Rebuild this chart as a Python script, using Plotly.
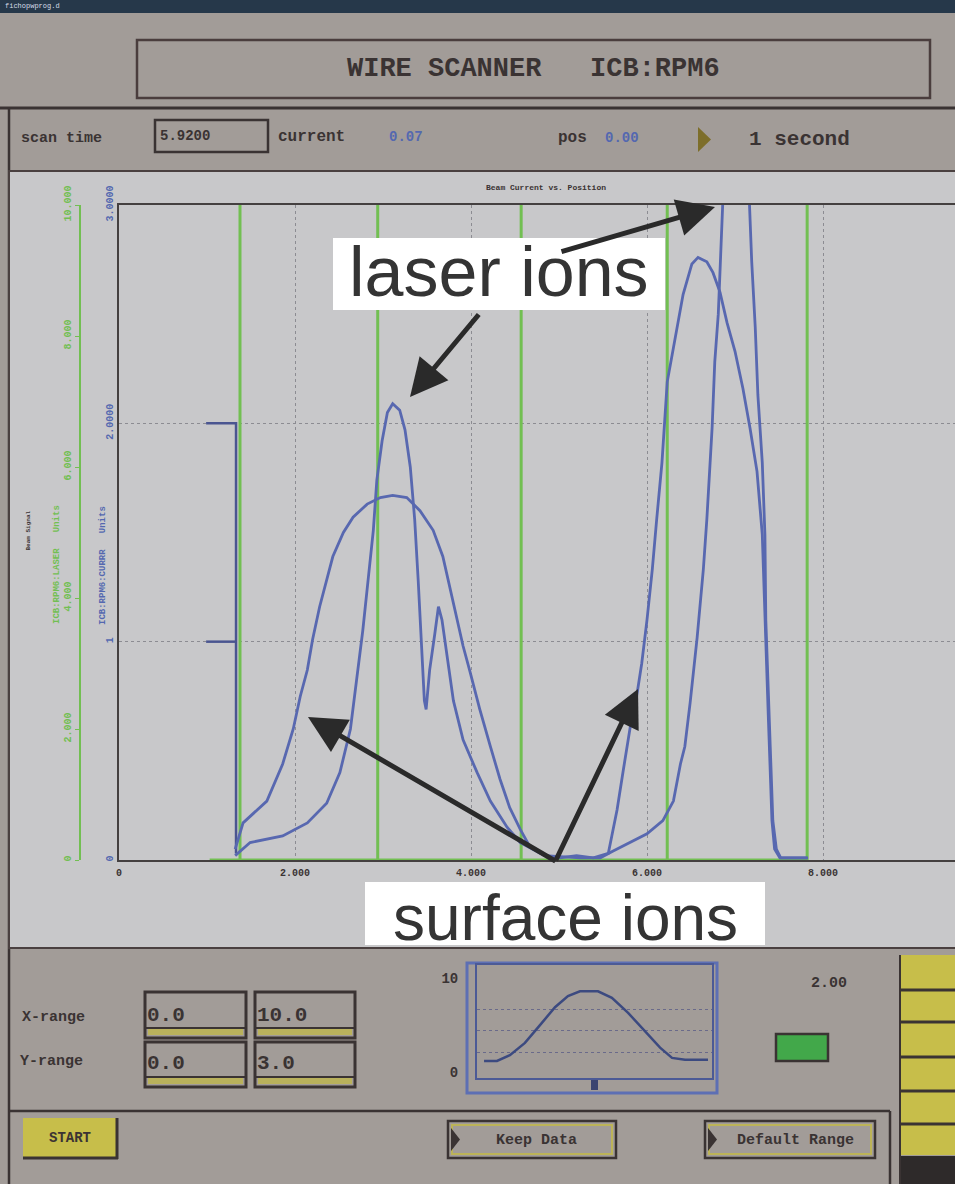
import plotly.graph_objects as go

W, H = 955, 1184

# ---------------- data ----------------
# surface-ion scan (broad peaks)
position_surface = [1.32, 1.41, 1.68, 1.86, 1.98, 2.06, 2.14, 2.20, 2.28, 2.36,
                    2.43, 2.55, 2.66, 2.82, 2.97, 3.11, 3.27, 3.42, 3.57, 3.68,
                    3.76, 3.84, 3.91, 3.99, 4.10, 4.22, 4.33, 4.44, 4.56, 4.67,
                    4.84, 5.01, 5.20, 5.39, 5.56, 5.60, 5.66, 5.73, 5.81, 5.89,
                    5.94, 6.00, 6.06, 6.11, 6.17, 6.23, 6.32, 6.41, 6.51, 6.58,
                    6.68, 6.75, 6.83, 6.91, 7.00, 7.09, 7.17, 7.25, 7.31, 7.34,
                    7.38, 7.42, 7.45, 7.51, 7.82]
current_surface = [0.05, 0.17, 0.27, 0.44, 0.60, 0.75, 0.87, 1.01, 1.16, 1.28,
                   1.39, 1.50, 1.57, 1.63, 1.66, 1.67, 1.66, 1.60, 1.51, 1.39,
                   1.25, 1.10, 0.98, 0.86, 0.69, 0.52, 0.37, 0.24, 0.14, 0.06,
                   0.02, 0.01, 0.02, 0.01, 0.03, 0.11, 0.23, 0.41, 0.61, 0.77,
                   0.90, 1.10, 1.33, 1.56, 1.82, 2.19, 2.40, 2.59, 2.73, 2.76,
                   2.74, 2.69, 2.60, 2.46, 2.33, 2.16, 1.98, 1.78, 1.49, 1.10,
                   0.64, 0.18, 0.05, 0.01, 0.01]
# laser-ion scan (narrow peaks)
position_laser = [1.32, 1.49, 1.86, 2.14, 2.36, 2.51, 2.63, 2.70, 2.77, 2.83,
                  2.89, 2.93, 2.99, 3.05, 3.11, 3.19, 3.25, 3.31, 3.36, 3.40,
                  3.44, 3.47, 3.49, 3.53, 3.59, 3.63, 3.67, 3.73, 3.80, 3.91,
                  4.07, 4.22, 4.41, 4.56, 4.84, 5.24, 5.47, 5.61, 5.81, 6.00,
                  6.18, 6.30, 6.38, 6.43, 6.49, 6.57, 6.64, 6.68, 6.74, 6.77,
                  6.81, 6.83, 6.85, 6.88, 7.00, 7.14, 7.16, 7.19, 7.23, 7.26,
                  7.31, 7.34, 7.35, 7.39, 7.43, 7.47, 7.52, 7.83]
current_laser = [0.02, 0.08, 0.11, 0.17, 0.26, 0.40, 0.60, 0.82, 1.05, 1.28,
                 1.51, 1.74, 1.92, 2.05, 2.09, 2.06, 1.97, 1.80, 1.56, 1.28,
                 0.98, 0.73, 0.69, 0.87, 1.04, 1.16, 1.10, 0.93, 0.73, 0.55,
                 0.40, 0.27, 0.15, 0.08, 0.02, 0.01, 0.01, 0.04, 0.08, 0.12,
                 0.18, 0.27, 0.44, 0.52, 0.72, 1.02, 1.33, 1.56, 1.98, 2.28,
                 2.50, 2.67, 2.90, 3.20, 3.60, 3.20, 3.05, 2.74, 2.44, 2.13,
                 1.82, 1.49, 1.10, 0.64, 0.18, 0.05, 0.01, 0.01]
# laser trigger signal (green)
trigger_positions = [1.375, 2.94, 4.57, 6.23, 7.82]
trigger_start = 1.03
trigger_high = 10.5
# start markers of the scan
marker_x = [0.99, 1.33, 1.33]
marker_y = [2.0, 2.0, 0.03]
marker2_x = [0.99, 1.33]
marker2_y = [1.0, 1.0]
# tick labels
x_tickvals = [0, 2, 4, 6, 8]
x_ticktext = ["0", "2.000", "4.000", "6.000", "8.000"]
cur_tickvals = [0, 1, 2, 3]
cur_ticktext = ["0", "1", "2.0000", "3.0000"]
laser_tickvals = [0, 2, 4, 6, 8, 10]
laser_ticktext = ["0", "2.000", "4.000", "6.000", "8.000", "10.000"]
# small preview plot
mini_x = [0.3, 0.85, 1.4, 2.04, 2.68, 3.32, 3.87, 4.38, 5.15, 5.74, 6.43, 7.15, 7.79, 8.3, 8.85, 9.83]
mini_y = [1.17, 1.17, 1.8, 3.1, 5.0, 6.9, 8.1, 8.6, 8.6, 7.9, 6.3, 4.3, 2.6, 1.5, 1.3, 1.3]
mini_tickvals = [0, 10]
mini_ticktext = ["0", "10"]

# ---------------- styling ----------------
BG = "#a29c98"
PANEL = "#c8c8ca"
DARK = "#3a3333"
BLUE = "rgb(88,104,176)"
BLUE_TXT = "#5468b0"
GREEN = "#72bf52"
YELLOW = "#c7be4a"
MONO = "Liberation Mono, Courier New, monospace"
SANS = "Liberation Sans, Arial, sans-serif"


def fx(x):
    return x / W


def fy(y):
    return 1 - y / H


shapes = []
annotations = []


def rect(x0, y0, x1, y1, fill=None, line=None, width=0, layer="below"):
    shapes.append(dict(type="rect", xref="paper", yref="paper",
                       x0=fx(x0), x1=fx(x1), y0=fy(y1), y1=fy(y0),
                       fillcolor=fill if fill else "rgba(0,0,0,0)",
                       line=dict(color=line if line else "rgba(0,0,0,0)", width=width),
                       layer=layer))


def hline(x0, x1, y, color=DARK, width=2, layer="below"):
    shapes.append(dict(type="line", xref="paper", yref="paper",
                       x0=fx(x0), x1=fx(x1), y0=fy(y), y1=fy(y),
                       line=dict(color=color, width=width), layer=layer))


def vline(x, y0, y1, color=DARK, width=2, layer="below"):
    shapes.append(dict(type="line", xref="paper", yref="paper",
                       x0=fx(x), x1=fx(x), y0=fy(y0), y1=fy(y1),
                       line=dict(color=color, width=width), layer=layer))


def tri(x0, y0, x1, y1, fill=DARK):
    ym = (y0 + y1) / 2
    path = f"M {fx(x0)} {fy(y0)} L {fx(x1)} {fy(ym)} L {fx(x0)} {fy(y1)} Z"
    shapes.append(dict(type="path", xref="paper", yref="paper", path=path,
                       fillcolor=fill, line=dict(width=0), layer="below"))


def txt(x, y, s, size, color=DARK, anchor="left", font=MONO, bold=True, angle=0):
    annotations.append(dict(x=fx(x), y=fy(y), xref="paper", yref="paper",
                            text=f"<b>{s}</b>" if bold else s, showarrow=False,
                            xanchor=anchor, yanchor="middle", textangle=angle,
                            borderpad=0,
                            font=dict(family=font, size=size, color=color)))


def arrow(tx, ty, sx, sy):
    annotations.append(dict(x=fx(tx), y=fy(ty), xref="paper", yref="paper",
                            ax=sx - tx, ay=sy - ty, text="", showarrow=True,
                            arrowhead=2, arrowsize=1.5, arrowwidth=5,
                            arrowcolor="#2a2a2a", standoff=0, startstandoff=0))


NB = "\u00a0"

# ---- window chrome ----
rect(0, 0, W, 13, fill="#26384a")
txt(4, 6, "fichopwprog.d", 7, color="#d8dde8", bold=False)
rect(137, 40, 930, 98, line="#4a3d3d", width=2.5)
txt(533, 69, f"WIRE SCANNER{NB*3}ICB:RPM6", 27, anchor="center")
hline(0, W, 108, width=3)
vline(9, 108, H, width=2.5)
rect(155, 120, 268, 152, line=DARK, width=2.5)
txt(20, 138, "scan time", 15)
txt(159, 136, "5.9200", 14)
txt(277, 137, "current", 16)
txt(388, 137, "0.07", 14, color=BLUE_TXT)
txt(557, 138, "pos", 16)
txt(604, 138, "0.00", 14, color=BLUE_TXT)
tri(698, 127, 711, 152, fill="#7d6e2a")
txt(748, 139, "1 second", 21)

# ---- plot panel ----
rect(9, 171, W + 2, 948, fill=PANEL, line="#4a4040", width=2)
txt(485, 187, "Beam Current vs. Position", 8)
txt(51, 565, f"ICB:RPM6:LASER{NB*3}Units", 9, color=GREEN, angle=-90)
txt(97, 566, f"ICB:RPM6:CURRR{NB*3}Units", 9, color=BLUE_TXT, angle=-90)
txt(23, 531, "Beam Signal", 6, angle=-90)

# ---- callout labels ----
rect(333, 238, 665, 310, fill="white", layer="above")
rect(365, 882, 765, 945, fill="white", layer="above")
txt(499, 272, "laser ions", 70, color="#343434", anchor="center", font=SANS, bold=False)
txt(565, 918, "surface ions", 64, color="#343434", anchor="center", font=SANS, bold=False)
arrow(410, 397, 480, 313)
arrow(715, 207, 560, 252)
arrow(308, 717, 557, 862)
arrow(638, 689, 555, 862)

# ---- lower controls ----
txt(21, 1017, "X-range", 15)
txt(19, 1061, "Y-range", 15)
for (x0, y0, x1, y1) in [(145, 992, 246, 1038), (255, 992, 355, 1038),
                         (145, 1042, 246, 1087), (255, 1042, 355, 1087)]:
    rect(x0 + 3, y1 - 10, x1 - 3, y1 - 3, fill="#b9b15c")
    hline(x0, x1, y1 - 10, width=2)
    rect(x0, y0, x1, y1, line=DARK, width=3)
txt(146, 1015, "0.0", 21)
txt(256, 1015, "10.0", 21)
txt(146, 1063, "0.0", 21)
txt(256, 1063, "3.0", 21)

hline(9, 890, 1111, width=2.5)
vline(890, 1111, H, width=2.5)
# START button
rect(23, 1118, 117, 1158, fill=YELLOW)
hline(23, 118, 1158, width=3)
vline(117, 1118, 1159, width=3)
txt(70, 1138, "START", 14, anchor="center")
# Keep Data / Default Range buttons
for (x0, x1) in [(448, 616), (705, 875)]:
    rect(x0, 1121, x1, 1158, line=DARK, width=2.5)
    rect(x0 + 4, 1125, x1 - 4, 1154, line="#bcb358", width=2)
    tri(x0 + 3, 1128, x0 + 12, 1151)
txt(536, 1140, "Keep Data", 15, anchor="center")
txt(795, 1140, "Default Range", 15, anchor="center")

# preview frame
rect(467, 963, 717, 1093, line="#5d6fb4", width=3)
rect(591, 1080, 598, 1090, fill="#3a4470")
txt(829, 984, "2.00", 15, anchor="center")
rect(776, 1034, 828, 1061, fill="#42a84a", line=DARK, width=2.5)

# right yellow strip
rect(900, 955, W + 2, 1155, fill=YELLOW)
for yy in [990, 1022, 1057, 1091, 1124]:
    hline(900, W, yy, width=3)
rect(900, 1156, W + 2, H + 2, fill="#2e2a2a")
vline(900, 955, H, width=2)

# ---------------- traces ----------------
gx, gy = [trigger_start], [0]
for p in trigger_positions:
    gx += [p, p, p]
    gy += [0, trigger_high, 0]

fig = go.Figure()
fig.add_trace(go.Scatter(x=gx, y=gy, xaxis="x", yaxis="y", mode="lines",
                         line=dict(color=GREEN, width=3), hoverinfo="skip"))
fig.add_trace(go.Scatter(x=marker_x, y=marker_y, xaxis="x", yaxis="y2", mode="lines",
                         line=dict(color="#4a5590", width=2.5), hoverinfo="skip"))
fig.add_trace(go.Scatter(x=marker2_x, y=marker2_y, xaxis="x", yaxis="y2", mode="lines",
                         line=dict(color="#4a5590", width=2.5), hoverinfo="skip"))
fig.add_trace(go.Scatter(x=position_surface, y=current_surface, xaxis="x", yaxis="y2",
                         mode="lines", line=dict(color=BLUE, width=2.8), hoverinfo="skip"))
fig.add_trace(go.Scatter(x=position_laser, y=current_laser, xaxis="x", yaxis="y2",
                         mode="lines", line=dict(color=BLUE, width=2.8), hoverinfo="skip"))
fig.add_trace(go.Scatter(x=mini_x, y=mini_y, xaxis="x2", yaxis="y3", mode="lines",
                         line=dict(color="#3c4a80", width=2.5), hoverinfo="skip"))

tickfont_dark = dict(family=MONO, size=10, color=DARK, weight="bold")
y_dom = [fy(860), fy(205)]

fig.update_layout(
    template="none",
    width=W, height=H, autosize=False,
    margin=dict(l=0, r=0, t=0, b=0, pad=0, autoexpand=False),
    paper_bgcolor=BG, plot_bgcolor="rgba(0,0,0,0)",
    showlegend=False,
    xaxis=dict(domain=[fx(119), 1.0], range=[0, (W - 119) / 88.0], anchor="y",
               automargin=False,
               tickvals=x_tickvals, ticktext=x_ticktext, tickfont=tickfont_dark,
               ticks="", ticklabelstandoff=2,
               showline=True, linecolor="#444040", linewidth=2, mirror=True,
               showgrid=True, gridcolor="#8c8c92", griddash="dot", gridwidth=1,
               zeroline=False, fixedrange=True),
    yaxis=dict(domain=y_dom, range=[0, 10], anchor="free", position=fx(80), side="left",
               automargin=False,
               tickvals=laser_tickvals, ticktext=laser_ticktext, tickangle=-90,
               tickfont=dict(family=MONO, size=10, color=GREEN, weight="bold"),
               ticks="outside", ticklen=4, tickcolor=GREEN,
               showline=True, linecolor=GREEN, linewidth=2,
               showgrid=False, zeroline=False, fixedrange=True),
    yaxis2=dict(domain=y_dom, range=[0, 3], overlaying="y", anchor="x", side="left",
                automargin=False,
                tickvals=cur_tickvals, ticktext=cur_ticktext, tickangle=-90,
                tickfont=dict(family=MONO, size=10, color=BLUE_TXT, weight="bold"),
                ticks="",
                showline=True, linecolor="#444040", linewidth=2,
                showgrid=True, gridcolor="#8c8c92", griddash="dot", gridwidth=1,
                zeroline=False, fixedrange=True),
    xaxis2=dict(domain=[fx(477), fx(712)], range=[0, 10], anchor="y3",
                automargin=False,
                showticklabels=False, ticks="", showline=True, mirror=True,
                linecolor="#4c5a96", linewidth=2, showgrid=False, zeroline=False,
                fixedrange=True),
    yaxis3=dict(domain=[fy(1078), fy(965)], range=[-0.64, 11.4], anchor="x2",
                automargin=False,
                tickvals=mini_tickvals, ticktext=mini_ticktext,
                tickfont=dict(family=MONO, size=14, color=DARK, weight="bold"),
                ticks="", ticklabelstandoff=14,
                showline=True, mirror=True, linecolor="#4c5a96", linewidth=2,
                showgrid=False, zeroline=False, fixedrange=True,
                minor=dict(tickvals=[2.1, 4.4, 6.7], showgrid=True,
                           gridcolor="#6a6a8a", griddash="dot", ticks="")),
    shapes=shapes,
    annotations=annotations,
)

fig.write_html("out.html", config={"displayModeBar": False})
